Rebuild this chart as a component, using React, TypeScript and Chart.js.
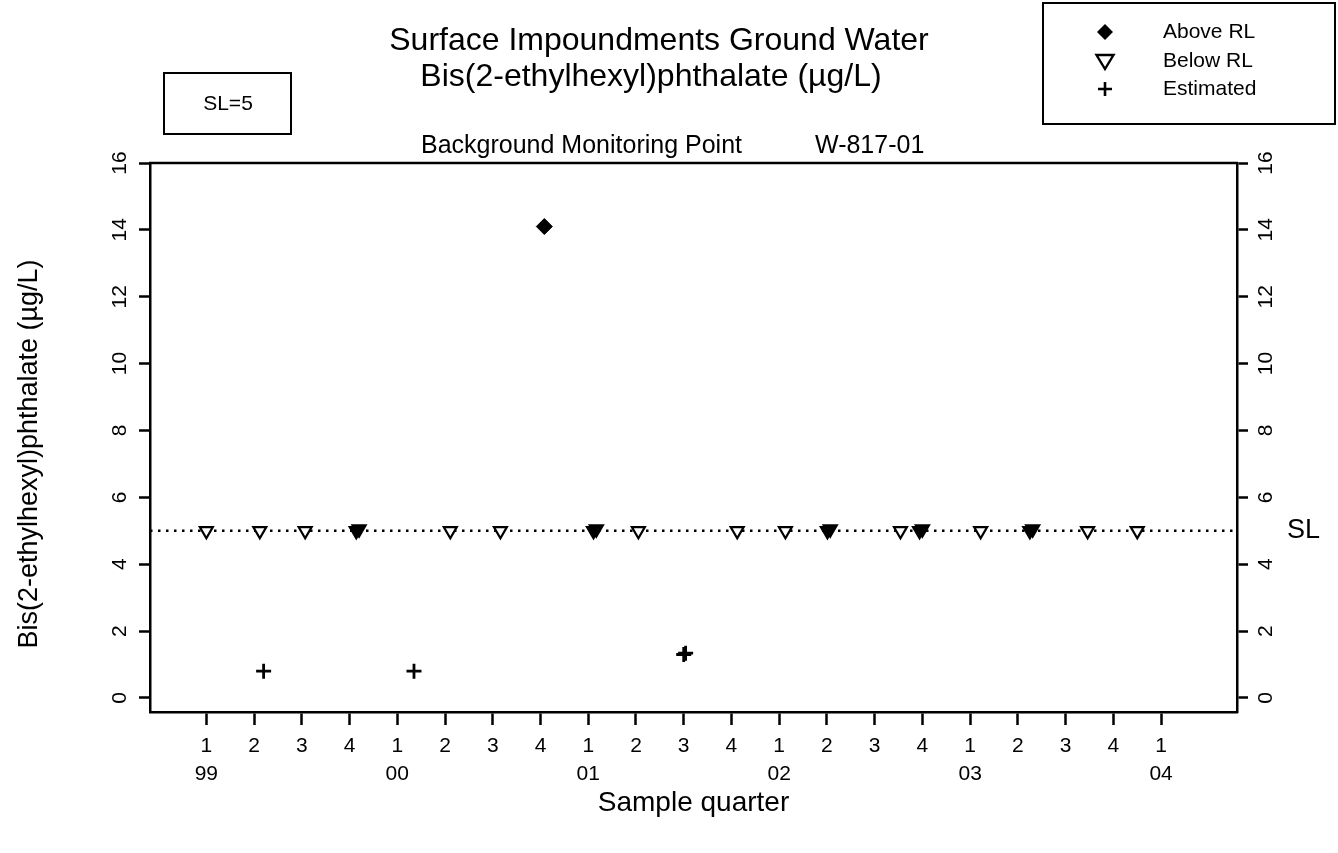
import React, { useEffect, useRef } from 'react';
import { Chart, registerables } from 'chart.js';

Chart.register(...registerables);

// ---- Data ----
// x = quarters since 1999 Q1 (0 = 1999 Q1)
const TICK_POSITIONS = [0, 1, 2, 3, 4, 5, 6, 7, 8, 9, 10, 11, 12, 13, 14, 15, 16, 17, 18, 19, 20];
const QUARTER_LABELS = ['1', '2', '3', '4', '1', '2', '3', '4', '1', '2', '3', '4', '1', '2', '3', '4', '1', '2', '3', '4', '1'];
const YEAR_LABELS = ['99', '', '', '', '00', '', '', '', '01', '', '', '', '02', '', '', '', '03', '', '', '', '04'];
const Y_TICKS = [0, 2, 4, 6, 8, 10, 12, 14, 16];

const ABOVE_X = [7.08];
const ABOVE_Y = [14.1];

const BELOW_X = [0, 1.12, 2.07, 3.14, 3.2, 5.11, 6.16, 8.11, 8.17, 9.05, 11.12, 12.13, 13.01, 13.07, 14.54, 14.94, 15.0, 16.22, 17.25, 17.31, 18.46, 19.5];
const BELOW_Y = [5, 5, 5, 5, 5.05, 5, 5, 5, 5.05, 5, 5, 5, 5, 5.05, 5, 5, 5.05, 5, 5, 5.05, 5, 5];

const EST_X = [1.2, 4.35, 10.0, 10.04];
const EST_Y = [0.8, 0.8, 1.3, 1.34];

const SL = 5;
const X_MIN = -1.18;
const X_MAX = 21.59;
const Y_MIN = -0.42;
const Y_MAX = 16;

const TITLE_LINES = ['Surface Impoundments Ground Water', 'Bis(2-ethylhexyl)phthalate (\u00b5g/L)'];
const SUBTITLE_LEFT = 'Background Monitoring Point';
const SUBTITLE_RIGHT = 'W-817-01';
const Y_TITLE = 'Bis(2-ethylhexyl)phthalate (\u00b5g/L)';
const X_TITLE = 'Sample quarter';
const LEGEND_LABELS = ['Above RL', 'Below RL', 'Estimated'];

const FONT = "'Liberation Sans', Arial, Helvetica, sans-serif";

function toPoints(xs: number[], ys: number[]) {
  return xs.map((x, i) => ({ x, y: ys[i] }));
}

function overplotted(xs: number[], i: number) {
  return xs.some((x, j) => j !== i && Math.abs(x - xs[i]) < 0.1);
}

export default function App() {
  const ref = useRef<HTMLCanvasElement>(null);

  useEffect(() => {
    document.body.style.margin = '0';
    const canvas = ref.current!;

    const extras = {
      id: 'extras',
      afterDraw(chart: any) {
        const { ctx, chartArea } = chart;
        ctx.save();
        ctx.strokeStyle = '#000';
        ctx.fillStyle = '#000';
        // top frame line
        ctx.lineWidth = 2.5;
        ctx.beginPath();
        ctx.moveTo(chartArea.left - 1, chartArea.top);
        ctx.lineTo(chartArea.right + 1, chartArea.top);
        ctx.stroke();

        // titles
        ctx.textBaseline = 'middle';
        ctx.textAlign = 'center';
        ctx.font = `32px ${FONT}`;
        ctx.fillText(TITLE_LINES[0], 659, 41);
        ctx.fillText(TITLE_LINES[1], 651, 77);
        ctx.font = `25px ${FONT}`;
        ctx.textAlign = 'left';
        ctx.fillText(SUBTITLE_LEFT, 421, 146);
        ctx.fillText(SUBTITLE_RIGHT, 815, 146);

        // y-axis title (centered where the reference shows it)
        ctx.save();
        ctx.translate(30, 454);
        ctx.rotate(-Math.PI / 2);
        ctx.textAlign = 'center';
        ctx.font = `27px ${FONT}`;
        ctx.fillText(Y_TITLE, 0, 0);
        ctx.restore();

        // SL box
        ctx.lineWidth = 2;
        ctx.strokeRect(164, 73, 127, 61);
        ctx.textAlign = 'center';
        ctx.font = `21px ${FONT}`;
        ctx.fillText(`SL=${SL}`, 228, 104);

        // legend box
        ctx.strokeRect(1043, 3, 292, 121);
        const sx = 1105;
        const rows = [32, 61, 89];
        // diamond
        ctx.beginPath();
        ctx.moveTo(sx, rows[0] - 8);
        ctx.lineTo(sx + 8, rows[0]);
        ctx.lineTo(sx, rows[0] + 8);
        ctx.lineTo(sx - 8, rows[0]);
        ctx.closePath();
        ctx.fill();
        // triangle down
        ctx.lineWidth = 2.4;
        ctx.beginPath();
        ctx.moveTo(sx - 8.5, rows[1] - 6);
        ctx.lineTo(sx + 8.5, rows[1] - 6);
        ctx.lineTo(sx, rows[1] + 8);
        ctx.closePath();
        ctx.stroke();
        // plus
        ctx.lineWidth = 2.6;
        ctx.beginPath();
        ctx.moveTo(sx - 7, rows[2]);
        ctx.lineTo(sx + 7, rows[2]);
        ctx.moveTo(sx, rows[2] - 7);
        ctx.lineTo(sx, rows[2] + 7);
        ctx.stroke();
        ctx.textAlign = 'left';
        ctx.font = `21px ${FONT}`;
        LEGEND_LABELS.forEach((t, i) => ctx.fillText(t, 1163, rows[i]));

        // SL label on the right
        const yp = chart.scales.y.getPixelForValue(SL);
        ctx.font = `27px ${FONT}`;
        ctx.fillText('SL', 1287, yp);
        ctx.restore();
      },
    };

    const tickFont = { family: FONT, size: 21 };
    const yAxisCommon = {
      type: 'linear' as const,
      min: Y_MIN,
      max: Y_MAX,
      afterBuildTicks: (s: any) => {
        s.ticks = Y_TICKS.map((v) => ({ value: v }));
      },
      ticks: {
        minRotation: 90,
        maxRotation: 90,
        crossAlign: 'center' as const,
        padding: 7,
        font: tickFont,
        color: '#000',
      },
      grid: { drawOnChartArea: false, drawTicks: true, tickLength: 11, tickWidth: 2.5, tickColor: '#000' },
      border: { display: true, color: '#000', width: 2.5 },
    };

    const chart = new Chart(canvas, {
      type: 'scatter',
      data: {
        datasets: [
          {
            label: 'Above RL',
            data: toPoints(ABOVE_X, ABOVE_Y),
            pointStyle: 'rectRot',
            pointRadius: 8,
            backgroundColor: '#000',
            borderColor: '#000',
            borderWidth: 1,
            order: 1,
          },
          {
            label: 'Below RL',
            data: toPoints(BELOW_X, BELOW_Y),
            pointStyle: 'triangle',
            rotation: 180,
            pointRadius: 7.5,
            backgroundColor: (c: any) => (overplotted(BELOW_X, c.dataIndex) ? '#000' : '#fff'),
            borderColor: '#000',
            borderWidth: 2.2,
            order: 1,
          },
          {
            label: 'Estimated',
            data: toPoints(EST_X, EST_Y),
            pointStyle: 'cross',
            pointRadius: 7.5,
            borderColor: '#000',
            borderWidth: 2.8,
            order: 1,
          },
          {
            type: 'line',
            label: 'SL',
            data: [
              { x: X_MIN, y: SL },
              { x: X_MAX, y: SL },
            ],
            borderColor: '#000',
            borderWidth: 2.5,
            borderDash: [2.5, 5.5],
            pointRadius: 0,
            fill: false,
            order: 5,
          } as any,
        ],
      },
      options: {
        responsive: false,
        maintainAspectRatio: false,
        animation: false,
        layout: { padding: { top: 163, left: 0, right: 0, bottom: 0 } },
        plugins: { legend: { display: false }, tooltip: { enabled: false }, title: { display: false } },
        scales: {
          x: {
            type: 'linear',
            min: X_MIN,
            max: X_MAX,
            afterFit: (s: any) => {
              s.height = 141;
            },
            afterBuildTicks: (s: any) => {
              s.ticks = TICK_POSITIONS.map((v) => ({ value: v }));
            },
            ticks: {
              autoSkip: false,
              maxRotation: 0,
              minRotation: 0,
              padding: 8,
              color: '#000',
              font: { family: FONT, size: 21, lineHeight: 1.3 },
              callback: (v: any) => {
                const i = TICK_POSITIONS.indexOf(Number(v));
                return [QUARTER_LABELS[i], YEAR_LABELS[i]];
              },
            },
            grid: { drawOnChartArea: false, drawTicks: true, tickLength: 13, tickWidth: 2.5, tickColor: '#000' },
            border: { display: true, color: '#000', width: 2.5 },
            title: {
              display: true,
              text: X_TITLE,
              color: '#000',
              font: { family: FONT, size: 28 },
              padding: { top: 0, bottom: 33 },
            },
          },
          y: {
            ...yAxisCommon,
            position: 'left',
            afterFit: (s: any) => {
              s.width = 150;
            },
          },
          y2: {
            ...yAxisCommon,
            position: 'right',
            afterFit: (s: any) => {
              s.width = 101;
            },
          },
        },
      } as any,
      plugins: [extras],
    });

    return () => chart.destroy();
  }, []);

  return (
    <div style={{ width: 1338, height: 853, background: '#fff' }}>
      <canvas ref={ref} width={1338} height={853} style={{ display: 'block' }} />
    </div>
  );
}
